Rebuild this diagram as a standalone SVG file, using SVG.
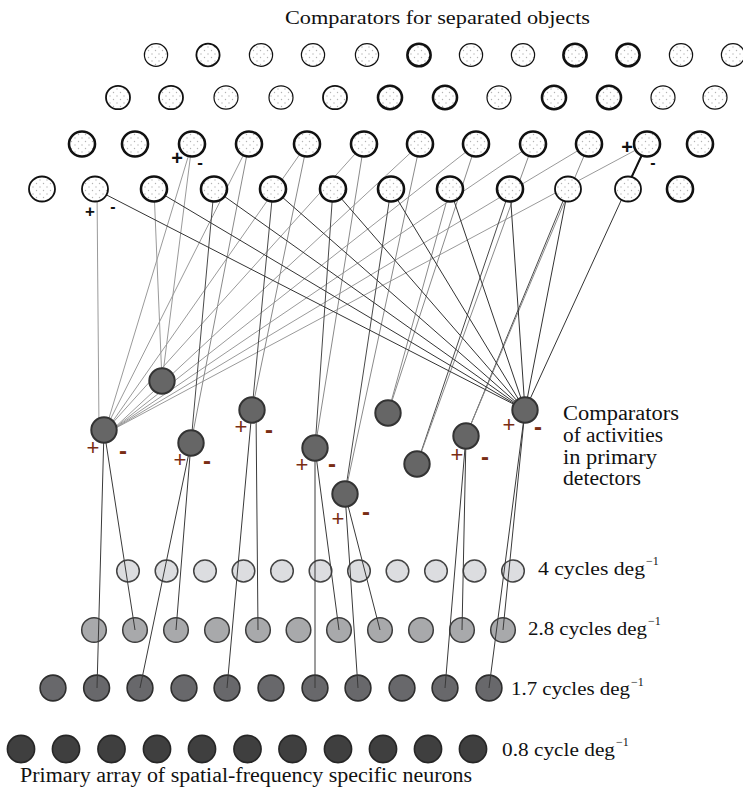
<svg xmlns="http://www.w3.org/2000/svg" width="743" height="794" viewBox="0 0 743 794">
<defs>
<pattern id="dots" width="7" height="7" patternUnits="userSpaceOnUse">
<rect width="7" height="7" fill="#ffffff"/>
<circle cx="1.5" cy="1.5" r="0.7" fill="#b4b4b4"/>
<circle cx="5" cy="5" r="0.7" fill="#b4b4b4"/>
</pattern>
</defs>
<style>
.lbl{font-family:"Liberation Serif","Times New Roman",serif;fill:#111}
.sup{font-family:"Liberation Serif","Times New Roman",serif;fill:#111;font-size:12px}
.oc{fill:url(#dots);stroke:#111}
.w1{stroke-width:1.2}
.w2{stroke-width:1.8}
.w3{stroke-width:2.6}
.mid{fill:#666666;stroke:#333333;stroke-width:2}
.r4{fill:#dcdde0;stroke:#444444;stroke-width:1.5}
.r28{fill:#a8a9ab;stroke:#3c3c3c;stroke-width:1.5}
.r17{fill:#68686b;stroke:#2e2e2e;stroke-width:1.6}
.r08{fill:#3f3f3f;stroke:#262626;stroke-width:1.6}
.g1{stroke:#9a9a9a;stroke-width:1;fill:none}
.g2{stroke:#8a8a8a;stroke-width:1;fill:none}
.d1{stroke:#4a4a4a;stroke-width:1;fill:none}
.k1{stroke:#333333;stroke-width:1;fill:none}
.d2{stroke:#3a3a3a;stroke-width:1;fill:none}
.bp{font-family:"Liberation Sans",Arial,sans-serif;fill:#7a2e14;font-size:22px;text-anchor:middle}
.bm{font-family:"Liberation Sans",Arial,sans-serif;fill:#7a2e14;font-size:24px;font-weight:bold;text-anchor:middle}
.tk{font-family:"Liberation Sans",Arial,sans-serif;fill:#111;font-weight:bold;text-anchor:middle}
</style>

<g id="titles">
<text class="lbl" x="285" y="24" font-size="19" textLength="305" lengthAdjust="spacingAndGlyphs">Comparators for separated objects</text>
<text class="lbl" x="563" y="420" font-size="20" textLength="116" lengthAdjust="spacingAndGlyphs">Comparators</text>
<text class="lbl" x="563" y="442" font-size="20" textLength="100" lengthAdjust="spacingAndGlyphs">of activities</text>
<text class="lbl" x="563" y="464" font-size="20" textLength="94" lengthAdjust="spacingAndGlyphs">in primary</text>
<text class="lbl" x="563" y="485" font-size="20" textLength="78" lengthAdjust="spacingAndGlyphs">detectors</text>
<text class="lbl" x="538" y="575" font-size="18"><tspan textLength="107" lengthAdjust="spacingAndGlyphs">4 cycles deg</tspan><tspan class="sup" x="646" y="565">−1</tspan></text>
<text class="lbl" x="528" y="635" font-size="18"><tspan textLength="119" lengthAdjust="spacingAndGlyphs">2.8 cycles deg</tspan><tspan class="sup" x="648" y="625">−1</tspan></text>
<text class="lbl" x="511" y="695" font-size="18"><tspan textLength="119" lengthAdjust="spacingAndGlyphs">1.7 cycles deg</tspan><tspan class="sup" x="631" y="686">−1</tspan></text>
<text class="lbl" x="502" y="756" font-size="18"><tspan textLength="113" lengthAdjust="spacingAndGlyphs">0.8 cycle deg</tspan><tspan class="sup" x="616" y="746">−1</tspan></text>
<text class="lbl" x="20" y="782" font-size="20" textLength="452" lengthAdjust="spacingAndGlyphs">Primary array of spatial-frequency specific neurons</text>
</g>

<g id="row-4cycles">
<ellipse class="r4" cx="128" cy="571" rx="11.3" ry="10.9"/>
<ellipse class="r4" cx="166.5" cy="571" rx="11.3" ry="10.9"/>
<ellipse class="r4" cx="205" cy="571" rx="11.3" ry="10.9"/>
<ellipse class="r4" cx="243.5" cy="571" rx="11.3" ry="10.9"/>
<ellipse class="r4" cx="282" cy="571" rx="11.3" ry="10.9"/>
<ellipse class="r4" cx="320.5" cy="571" rx="11.3" ry="10.9"/>
<ellipse class="r4" cx="359" cy="571" rx="11.3" ry="10.9"/>
<ellipse class="r4" cx="397.5" cy="571" rx="11.3" ry="10.9"/>
<ellipse class="r4" cx="436" cy="571" rx="11.3" ry="10.9"/>
<ellipse class="r4" cx="474.5" cy="571" rx="11.3" ry="10.9"/>
<ellipse class="r4" cx="513" cy="571" rx="11.3" ry="10.9"/>
</g>
<g id="row-2-8cycles">
<circle class="r28" cx="94" cy="630" r="12.3"/>
<circle class="r28" cx="135" cy="630" r="12.3"/>
<circle class="r28" cx="176" cy="630" r="12.3"/>
<circle class="r28" cx="217" cy="630" r="12.3"/>
<circle class="r28" cx="258" cy="630" r="12.3"/>
<circle class="r28" cx="298.5" cy="630" r="12.3"/>
<circle class="r28" cx="339" cy="630" r="12.3"/>
<circle class="r28" cx="380" cy="630" r="12.3"/>
<circle class="r28" cx="421" cy="630" r="12.3"/>
<circle class="r28" cx="462" cy="630" r="12.3"/>
<circle class="r28" cx="503" cy="630" r="12.3"/>
</g>
<g id="row-1-7cycles">
<circle class="r17" cx="53" cy="688" r="12.9"/>
<circle class="r17" cx="96.6" cy="688" r="12.9"/>
<circle class="r17" cx="140" cy="688" r="12.9"/>
<circle class="r17" cx="184" cy="688" r="12.9"/>
<circle class="r17" cx="227" cy="688" r="12.9"/>
<circle class="r17" cx="271" cy="688" r="12.9"/>
<circle class="r17" cx="315" cy="688" r="12.9"/>
<circle class="r17" cx="358" cy="688" r="12.9"/>
<circle class="r17" cx="402" cy="688" r="12.9"/>
<circle class="r17" cx="445" cy="688" r="12.9"/>
<circle class="r17" cx="489" cy="688" r="12.9"/>
</g>
<g id="row-0-8cycle">
<circle class="r08" cx="21" cy="749" r="13.6"/>
<circle class="r08" cx="66" cy="749" r="13.6"/>
<circle class="r08" cx="111.5" cy="749" r="13.6"/>
<circle class="r08" cx="157" cy="749" r="13.6"/>
<circle class="r08" cx="202" cy="749" r="13.6"/>
<circle class="r08" cx="247.5" cy="749" r="13.6"/>
<circle class="r08" cx="292.5" cy="749" r="13.6"/>
<circle class="r08" cx="338" cy="749" r="13.6"/>
<circle class="r08" cx="383" cy="749" r="13.6"/>
<circle class="r08" cx="428" cy="749" r="13.6"/>
<circle class="r08" cx="473" cy="749" r="13.6"/>
</g>

<g id="connectors">
<!-- B fan -->
<line class="g1" x1="99" y1="430" x2="97" y2="189"/>
<line class="g1" x1="106" y1="428" x2="192" y2="144"/>
<line class="g1" x1="106" y1="428" x2="249" y2="144"/>
<line class="g1" x1="108" y1="428" x2="307" y2="144"/>
<line class="g1" x1="108" y1="428" x2="364" y2="144"/>
<line class="g1" x1="112" y1="430" x2="420" y2="144"/>
<line class="g1" x1="112" y1="430" x2="476" y2="144"/>
<line class="g1" x1="112" y1="430" x2="533" y2="144"/>
<line class="g1" x1="112" y1="430" x2="589" y2="144"/>
<line class="g1" x1="112" y1="430" x2="647" y2="144"/>
<!-- A -->
<line class="g1" x1="162" y1="381" x2="154" y2="189"/>
<line class="g1" x1="162" y1="381" x2="192" y2="144"/>
<!-- C..I -->
<line class="d1" x1="191" y1="443" x2="214" y2="189"/>
<line class="g2" x1="191" y1="443" x2="249" y2="144"/>
<line class="d1" x1="252" y1="410" x2="273" y2="189"/>
<line class="g2" x1="252" y1="410" x2="307" y2="144"/>
<line class="d1" x1="315" y1="448" x2="333" y2="189"/>
<line class="g2" x1="315" y1="448" x2="364" y2="144"/>
<line class="d1" x1="345" y1="494" x2="391" y2="189"/>
<line class="g2" x1="345" y1="494" x2="420" y2="144"/>
<line class="g2" x1="388" y1="413" x2="450" y2="189"/>
<line class="g2" x1="388" y1="413" x2="476" y2="144"/>
<line class="d1" x1="417" y1="464" x2="510" y2="189"/>
<line class="g2" x1="417" y1="464" x2="533" y2="144"/>
<line class="d1" x1="466" y1="436" x2="568" y2="189"/>
<line class="g2" x1="466" y1="436" x2="589" y2="144"/>
<!-- J fan -->
<line class="k1" x1="95" y1="189" x2="525" y2="410"/>
<line class="k1" x1="154" y1="189" x2="525" y2="410"/>
<line class="k1" x1="214" y1="189" x2="525" y2="410"/>
<line class="k1" x1="273" y1="189" x2="525" y2="410"/>
<line class="k1" x1="333" y1="189" x2="525" y2="410"/>
<line class="k1" x1="391" y1="189" x2="525" y2="410"/>
<line class="k1" x1="450" y1="189" x2="525" y2="410"/>
<line class="k1" x1="510" y1="189" x2="525" y2="410"/>
<line class="k1" x1="568" y1="189" x2="525" y2="410"/>
<line class="k1" x1="647" y1="144" x2="525" y2="410"/>
<line stroke="#111" stroke-width="2" x1="626" y1="189" x2="647" y2="144"/>
<!-- down to primary arrays -->
<line class="d2" x1="104" y1="430" x2="97" y2="688"/>
<line class="d2" x1="104" y1="430" x2="135" y2="630"/>
<line class="d2" x1="191" y1="443" x2="140" y2="688"/>
<line class="d2" x1="191" y1="443" x2="176" y2="630"/>
<line class="d2" x1="252" y1="410" x2="227" y2="688"/>
<line class="d2" x1="256" y1="410" x2="258" y2="630" stroke-width="1.3"/>
<line class="d2" x1="315" y1="448" x2="315" y2="688"/>
<line class="d2" x1="315" y1="448" x2="339" y2="630"/>
<line class="d2" x1="345" y1="494" x2="358" y2="688"/>
<line class="d2" x1="345" y1="494" x2="380" y2="630"/>
<line class="d2" x1="466" y1="436" x2="445" y2="688"/>
<line class="d2" x1="466" y1="436" x2="462" y2="630"/>
<line class="d2" x1="525" y1="410" x2="489" y2="688"/>
<line class="d2" x1="525" y1="410" x2="503" y2="630"/>
</g>

<g id="activity-comparators">
<circle id="cmpA" class="mid" cx="162" cy="381" r="12.7"/>
<circle id="cmpB" class="mid" cx="104" cy="430" r="12.7"/>
<circle id="cmpC" class="mid" cx="191" cy="443" r="12.7"/>
<circle id="cmpD" class="mid" cx="252" cy="410" r="12.7"/>
<circle id="cmpE" class="mid" cx="315" cy="448" r="12.7"/>
<circle id="cmpF" class="mid" cx="345" cy="494" r="12.7"/>
<circle id="cmpG" class="mid" cx="388" cy="413" r="12.7"/>
<circle id="cmpH" class="mid" cx="417" cy="464" r="12.7"/>
<circle id="cmpI" class="mid" cx="466" cy="436" r="12.7"/>
<circle id="cmpJ" class="mid" cx="525" cy="410" r="12.7"/>
</g>

<g id="object-comparators-row1">
<ellipse class="oc w1" cx="156" cy="55" rx="11.6" ry="11.3"/>
<ellipse class="oc w2" cx="208" cy="55" rx="11.6" ry="11.3"/>
<ellipse class="oc w1" cx="261" cy="55" rx="11.6" ry="11.3"/>
<ellipse class="oc w1" cx="313" cy="55" rx="11.6" ry="11.3"/>
<ellipse class="oc w1" cx="367" cy="55" rx="11.6" ry="11.3"/>
<ellipse class="oc w3" cx="419" cy="55" rx="11.6" ry="11.3"/>
<ellipse class="oc w1" cx="471" cy="55" rx="11.6" ry="11.3"/>
<ellipse class="oc w1" cx="523" cy="55" rx="11.6" ry="11.3"/>
<ellipse class="oc w3" cx="575" cy="55" rx="11.6" ry="11.3"/>
<ellipse class="oc w3" cx="628" cy="55" rx="11.6" ry="11.3"/>
<ellipse class="oc w1" cx="681" cy="55" rx="11.6" ry="11.3"/>
<ellipse class="oc w1" cx="733" cy="55" rx="11.6" ry="11.3"/>
</g>
<g id="object-comparators-row2">
<ellipse class="oc w2" cx="118" cy="97.5" rx="12" ry="11.7"/>
<ellipse class="oc w2" cx="171" cy="97.5" rx="12" ry="11.7"/>
<ellipse class="oc w1" cx="226" cy="97.5" rx="12" ry="11.7"/>
<ellipse class="oc w1" cx="281" cy="97.5" rx="12" ry="11.7"/>
<ellipse class="oc w2" cx="335" cy="97.5" rx="12" ry="11.7"/>
<ellipse class="oc w3" cx="390" cy="97.5" rx="12" ry="11.7"/>
<ellipse class="oc w3" cx="445" cy="97.5" rx="12" ry="11.7"/>
<ellipse class="oc w1" cx="499" cy="97.5" rx="12" ry="11.7"/>
<ellipse class="oc w3" cx="554" cy="97.5" rx="12" ry="11.7"/>
<ellipse class="oc w3" cx="609" cy="97.5" rx="12" ry="11.7"/>
<ellipse class="oc w1" cx="663" cy="97.5" rx="12" ry="11.7"/>
<ellipse class="oc w1" cx="715" cy="97.5" rx="12" ry="11.7"/>
</g>
<g id="object-comparators-row3">
<ellipse class="oc w3" cx="82" cy="144" rx="13" ry="12.5"/>
<ellipse class="oc w3" cx="135" cy="144" rx="13" ry="12.5"/>
<ellipse class="oc w3" cx="192" cy="144" rx="13" ry="12.5"/>
<ellipse class="oc w3" cx="249" cy="144" rx="13" ry="12.5"/>
<ellipse class="oc w3" cx="307" cy="144" rx="13" ry="12.5"/>
<ellipse class="oc w3" cx="364" cy="144" rx="13" ry="12.5"/>
<ellipse class="oc w3" cx="420" cy="144" rx="13" ry="12.5"/>
<ellipse class="oc w3" cx="476" cy="144" rx="13" ry="12.5"/>
<ellipse class="oc w3" cx="533" cy="144" rx="13" ry="12.5"/>
<ellipse class="oc w3" cx="589" cy="144" rx="13" ry="12.5"/>
<ellipse class="oc w3" cx="647" cy="144" rx="13" ry="12.5"/>
<ellipse class="oc w3" cx="700" cy="144" rx="13" ry="12.5"/>
</g>
<g id="object-comparators-row4">
<ellipse class="oc w2" cx="42" cy="189" rx="13" ry="12.5"/>
<ellipse class="oc w2" cx="95" cy="189" rx="13" ry="12.5"/>
<ellipse class="oc w3" cx="154" cy="189" rx="13" ry="12.5"/>
<ellipse class="oc w3" cx="214" cy="189" rx="13" ry="12.5"/>
<ellipse class="oc w3" cx="273" cy="189" rx="13" ry="12.5"/>
<ellipse class="oc w3" cx="333" cy="189" rx="13" ry="12.5"/>
<ellipse class="oc w3" cx="391" cy="189" rx="13" ry="12.5"/>
<ellipse class="oc w3" cx="450" cy="189" rx="13" ry="12.5"/>
<ellipse class="oc w3" cx="510" cy="189" rx="13" ry="12.5"/>
<ellipse class="oc w2" cx="568" cy="189" rx="13" ry="12.5"/>
<ellipse class="oc w2" cx="628" cy="189" rx="13" ry="12.5"/>
<ellipse class="oc w3" cx="680" cy="189" rx="13" ry="12.5"/>
</g>

<g id="signs">
<text class="tk" x="177" y="165" font-size="20">+</text>
<text class="tk" x="200" y="168" font-size="17">-</text>
<text class="tk" x="90" y="217" font-size="17" font-weight="normal">+</text>
<text class="tk" x="113" y="211.5" font-size="16">-</text>
<text class="tk" x="627" y="154" font-size="20">+</text>
<text class="tk" x="653" y="167.5" font-size="16">-</text>
<text class="bp" x="93" y="454.7">+</text><text class="bm" x="123" y="459">-</text>
<text class="bp" x="180" y="466.7">+</text><text class="bm" x="207" y="469">-</text>
<text class="bp" x="241" y="433.7">+</text><text class="bm" x="269" y="438">-</text>
<text class="bp" x="302" y="471.7">+</text><text class="bm" x="332" y="472">-</text>
<text class="bp" x="338" y="525.7">+</text><text class="bm" x="366" y="520">-</text>
<text class="bp" x="457" y="461.7">+</text><text class="bm" x="485" y="465">-</text>
<text class="bp" x="509" y="431.7">+</text><text class="bm" x="538" y="435">-</text>
</g>
</svg>
